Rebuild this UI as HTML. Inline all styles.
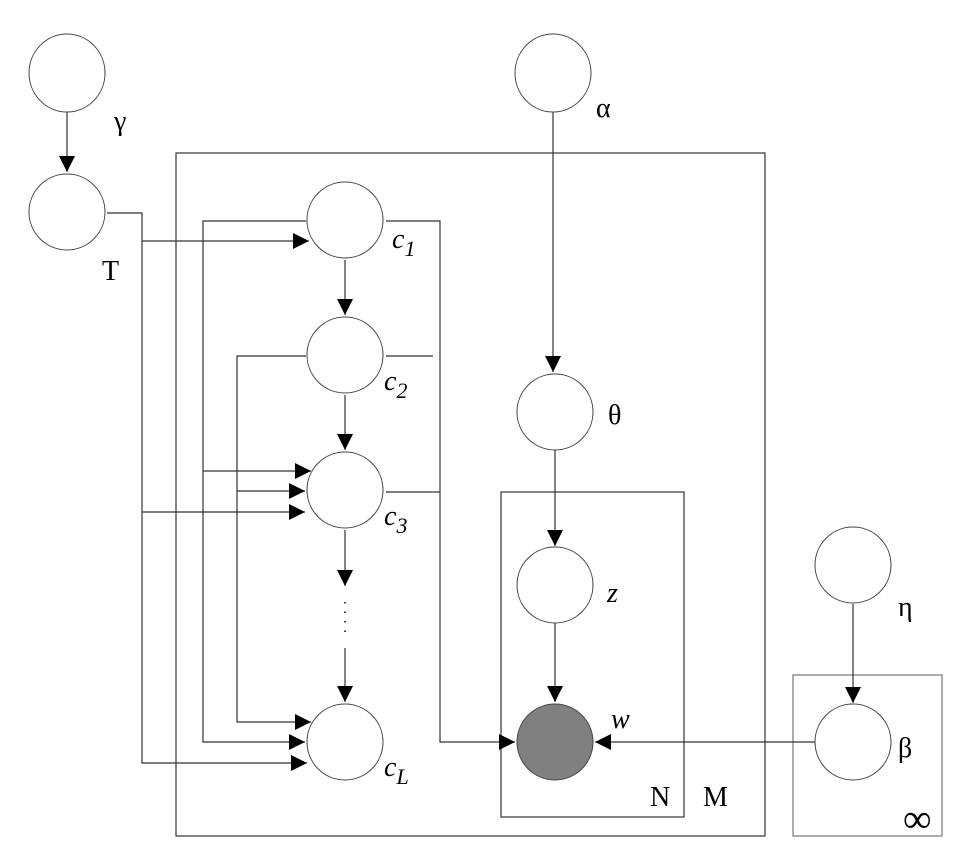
<!DOCTYPE html>
<html><head><style>body{margin:0;background:#fff}svg{display:block}
.t{font-family:"Liberation Serif","Times New Roman",Times,serif;font-size:28px;fill:#000}
.i{font-style:italic}.s{font-size:22px}</style></head><body>
<svg width="980" height="864" viewBox="0 0 980 864" xmlns="http://www.w3.org/2000/svg">
<defs><marker id="a" markerWidth="16" markerHeight="16" refX="16" refY="8" orient="auto" markerUnits="userSpaceOnUse"><path d="M0,0 L16,8 L0,16 z" fill="#000"/></marker></defs>
<g fill="none" stroke="#333" stroke-width="1.2">
<rect x="176" y="153" width="589" height="683"/>
<rect x="501" y="492" width="183" height="325"/>
<rect x="793" y="675" width="149" height="161" stroke="#777"/>
<line x1="67" y1="112" x2="67" y2="172" marker-end="url(#a)"/>
<line x1="553" y1="112" x2="553" y2="372" marker-end="url(#a)"/>
<line x1="555" y1="450" x2="555" y2="546" marker-end="url(#a)"/>
<line x1="555" y1="623" x2="555" y2="702" marker-end="url(#a)"/>
<line x1="853" y1="604" x2="853" y2="703" marker-end="url(#a)"/>
<line x1="345" y1="260" x2="345" y2="315" marker-end="url(#a)"/>
<line x1="345" y1="395" x2="345" y2="450" marker-end="url(#a)"/>
<line x1="345" y1="530" x2="345" y2="586" marker-end="url(#a)"/>
<line x1="345" y1="648" x2="345" y2="702" marker-end="url(#a)"/>
<polyline points="107,213 142,213 142,763 307,763" marker-end="url(#a)"/>
<line x1="142" y1="241" x2="309" y2="241" marker-end="url(#a)"/>
<line x1="142" y1="512" x2="305" y2="512" marker-end="url(#a)"/>
<polyline points="306,221 203,221 203,742 305,742" marker-end="url(#a)"/>
<line x1="203" y1="471" x2="311" y2="471" marker-end="url(#a)"/>
<polyline points="306,356 237,356 237,722 311,722" marker-end="url(#a)"/>
<line x1="237" y1="491" x2="305" y2="491" marker-end="url(#a)"/>
<polyline points="386,221 440,221 440,742 515,742" marker-end="url(#a)"/>
<line x1="386" y1="356" x2="433" y2="356"/>
<line x1="386" y1="492" x2="440" y2="492"/>
<line x1="815" y1="742" x2="595" y2="742" marker-end="url(#a)"/>
</g>
<g fill="#fff" stroke="#444" stroke-width="1">
<ellipse cx="67" cy="73" rx="38" ry="39"/>
<ellipse cx="67" cy="212" rx="38" ry="38"/>
<ellipse cx="553" cy="73" rx="38" ry="39"/>
<circle cx="555" cy="412" r="38"/>
<circle cx="555" cy="585" r="38"/>
<circle cx="555" cy="742" r="38" fill="#808080"/>
<circle cx="853" cy="565" r="38"/>
<circle cx="853" cy="742" r="38"/>
<circle cx="345" cy="220" r="38"/>
<circle cx="345" cy="355" r="38"/>
<circle cx="345" cy="490" r="38"/>
<circle cx="345" cy="742" r="38"/>
</g>
<g stroke="#000" stroke-width="1.5" stroke-dasharray="1.5,8"><line x1="345" y1="602" x2="345" y2="634"/></g>
<text class="t" x="114" y="130">γ</text>
<text class="t" x="102" y="280">T</text>
<text class="t" x="596" y="117">α</text>
<text class="t" x="608" y="424">θ</text>
<text class="t" x="898" y="616">η</text>
<text class="t" x="898" y="757">β</text>
<text class="t" x="650" y="806">N</text>
<text class="t" x="703" y="806">M</text>
<text class="t" x="903" y="832" style="font-size:40px">∞</text>
<text class="t i" x="607" y="602">z</text>
<text class="t i" x="611" y="728">w</text>
<text class="t i" x="392" y="248">c<tspan class="s" dy="8">1</tspan></text>
<text class="t i" x="384" y="390">c<tspan class="s" dy="8">2</tspan></text>
<text class="t i" x="384" y="525">c<tspan class="s" dy="8">3</tspan></text>
<text class="t i" x="384" y="776">c<tspan class="s" dy="8">L</tspan></text>
</svg>
</body></html>
